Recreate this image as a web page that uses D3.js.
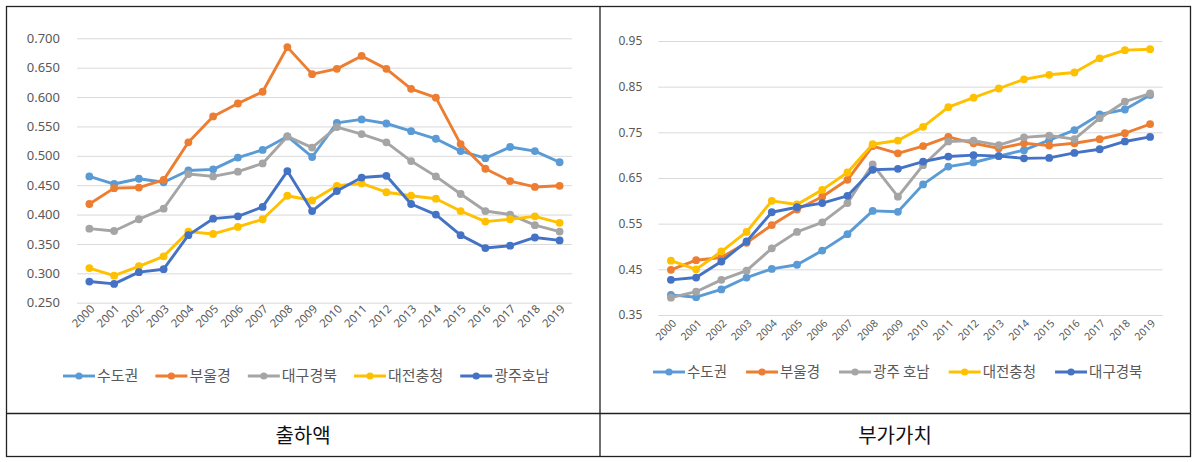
<!DOCTYPE html>
<html><head><meta charset="utf-8">
<script src="https://cdn.jsdelivr.net/npm/d3@7"></script>
<style>
html,body{margin:0;padding:0;background:#fff;}
text{font-family:"Noto Sans CJK KR","Noto Sans",sans-serif;}
</style></head>
<body>
<svg id="chart" width="1202" height="462"></svg>
<script>
const years = ["2000","2001","2002","2003","2004","2005","2006","2007","2008","2009","2010","2011","2012","2013","2014","2015","2016","2017","2018","2019"];

// 출하액 (left)
const leftNames = ["수도권","부울경","대구경북","대전충청","광주호남"];
const L_sudo    = [0.465,0.452,0.461,0.455,0.475,0.477,0.497,0.510,0.533,0.498,0.556,0.562,0.555,0.542,0.529,0.508,0.496,0.515,0.508,0.489];
const L_buul    = [0.418,0.445,0.446,0.459,0.523,0.567,0.589,0.609,0.685,0.639,0.648,0.670,0.648,0.614,0.599,0.520,0.478,0.457,0.447,0.449];
const L_daegu   = [0.376,0.372,0.392,0.410,0.469,0.465,0.473,0.487,0.533,0.514,0.549,0.537,0.523,0.491,0.465,0.435,0.406,0.400,0.382,0.371];
const L_daejeon = [0.309,0.296,0.312,0.329,0.371,0.367,0.379,0.392,0.432,0.424,0.449,0.453,0.438,0.432,0.427,0.406,0.388,0.392,0.397,0.386];
const L_gwangju = [0.286,0.282,0.302,0.307,0.365,0.393,0.397,0.413,0.474,0.406,0.440,0.463,0.466,0.418,0.400,0.365,0.343,0.347,0.361,0.356];
const leftTicks = [0.25,0.30,0.35,0.40,0.45,0.50,0.55,0.60,0.65,0.70];

// 부가가치 (right)
const rightNames = ["수도권","부울경","광주 호남","대전충청","대구경북"];
const R_sudo    = [0.394,0.389,0.406,0.432,0.451,0.460,0.491,0.527,0.578,0.576,0.636,0.675,0.684,0.698,0.711,0.733,0.755,0.789,0.800,0.832];
const R_buul    = [0.449,0.470,0.476,0.508,0.547,0.581,0.609,0.646,0.720,0.704,0.720,0.740,0.726,0.715,0.726,0.721,0.726,0.735,0.748,0.768];
const R_gwangju = [0.388,0.401,0.427,0.447,0.496,0.532,0.553,0.595,0.680,0.609,0.678,0.730,0.732,0.722,0.739,0.743,0.735,0.781,0.817,0.835];
const R_daejeon = [0.469,0.450,0.489,0.532,0.600,0.592,0.624,0.662,0.724,0.732,0.762,0.805,0.826,0.846,0.866,0.876,0.881,0.912,0.930,0.932];
const R_daegu   = [0.427,0.432,0.467,0.511,0.575,0.586,0.595,0.611,0.668,0.670,0.686,0.697,0.700,0.698,0.693,0.694,0.705,0.713,0.730,0.740];
const rightTicks = [0.35,0.45,0.55,0.65,0.75,0.85,0.95];

const captions = ["출하액","부가가치"];
const colors = ["#5B9BD5","#ED7D31","#A5A5A5","#FFC000","#4472C4"];

const svg = d3.select("#chart");
svg.append("rect").attr("width",1202).attr("height",462).attr("fill","#fff");

// table frame
const frame = svg.append("g").attr("stroke","#222").attr("stroke-width",1.3).attr("fill","none");
frame.append("rect").attr("x",6.5).attr("y",6.5).attr("width",1184).attr("height",450);
frame.append("line").attr("x1",600).attr("x2",600).attr("y1",6.5).attr("y2",456.5);
frame.append("line").attr("x1",6.5).attr("x2",1190.5).attr("y1",413.5).attr("y2",413.5);

function drawChart(cfg){
  const g = svg.append("g");
  const x = d3.scaleBand().domain(years).range([cfg.x0,cfg.x1]).padding(0);
  const y = d3.scaleLinear().domain(cfg.domain).range([cfg.y0,cfg.y1]);
  const cx = d => x(d) + x.bandwidth()/2;

  // grid
  const grid = g.append("g").attr("transform",`translate(${cfg.x0},0)`)
    .call(d3.axisLeft(y).tickValues(cfg.ticks).tickSize(-(cfg.x1-cfg.x0)).tickFormat(""));
  grid.select(".domain").remove();
  grid.selectAll("line").attr("stroke","#d9d9d9").attr("stroke-width",1);

  // y labels
  const ya = g.append("g").attr("transform",`translate(${cfg.x0-cfg.labGap},0)`)
    .call(d3.axisLeft(y).tickValues(cfg.ticks).tickSize(0).tickFormat(d3.format(cfg.fmt)));
  ya.select(".domain").remove();
  ya.selectAll("text").attr("fill","#595959").style("font-size",cfg.yFont+"px")
    .style("font-family","'Noto Sans','Open Sans',sans-serif");

  // x labels
  const xa = g.append("g").attr("transform",`translate(0,${cfg.y0})`)
    .call(d3.axisBottom(x).tickSize(0));
  xa.select(".domain").remove();
  xa.selectAll("text").attr("fill","#595959").style("font-size",cfg.xFont+"px")
    .style("font-family","'Noto Sans','Open Sans',sans-serif")
    .attr("text-anchor","end").attr("dy","0").attr("y",0)
    .attr("transform",`translate(${cfg.xlDx},${cfg.xlDy}) rotate(-45)`);

  const line = d3.line().x((d,i)=>cx(years[i])).y(d=>y(d));
  cfg.series.forEach((vals,si)=>{
    const s = g.append("g");
    s.append("path").datum(vals).attr("d",line).attr("fill","none")
      .attr("stroke",cfg.colors[si]).attr("stroke-width",2.9).attr("stroke-linejoin","round");
    s.selectAll("circle").data(vals).join("circle")
      .attr("cx",(d,i)=>cx(years[i])).attr("cy",d=>y(d)).attr("r",3.9).attr("fill",cfg.colors[si]);
  });

  // legend
  const lg = g.append("g");
  let lx = cfg.legX;
  cfg.names.forEach((n,i)=>{
    const it = lg.append("g").attr("transform",`translate(${lx},${cfg.legY})`);
    it.append("line").attr("x1",0).attr("x2",32).attr("stroke",cfg.colors[i]).attr("stroke-width",2.9);
    it.append("circle").attr("cx",16).attr("r",3.6).attr("fill",cfg.colors[i]);
    const t = it.append("text").attr("x",34).attr("dy","0.36em").attr("fill","#595959")
      .style("font-size",cfg.legFont+"px").text(n);
    lx += 34 + t.node().getComputedTextLength() + cfg.legGap;
  });

  svg.append("text").attr("x",cfg.capX).attr("y",436).attr("text-anchor","middle")
    .attr("dy","0.35em").attr("fill","#111").style("font-size","20px").text(cfg.caption);
}

drawChart({x0:77,x1:572,y0:302.7,y1:38.3,domain:[0.25,0.70],ticks:leftTicks,fmt:".3f",labGap:14,yFont:13,xFont:11.5,
  xlDx:6,xlDy:7,series:[L_sudo,L_buul,L_daegu,L_daejeon,L_gwangju],names:leftNames,colors:colors,
  legX:63,legY:376,legFont:15,legGap:17,caption:captions[0],capX:303});

drawChart({x0:658.3,x1:1162.7,y0:315,y1:41,domain:[0.35,0.95],ticks:rightTicks,fmt:".2f",labGap:13,yFont:12,xFont:10.5,
  xlDx:6,xlDy:9,series:[R_sudo,R_buul,R_gwangju,R_daejeon,R_daegu],names:rightNames,colors:colors,
  legX:653,legY:372,legFont:14.5,legGap:19,caption:captions[1],capX:895});
</script>
</body></html>
